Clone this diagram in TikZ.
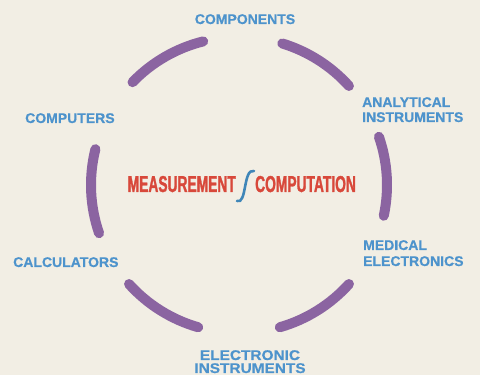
\documentclass[tikz,border=0pt]{standalone}
\usepackage{fontspec}
\setmainfont{Liberation Sans}
\newfontfamily\lblfont[FakeBold=0.5]{Liberation Sans Bold}
\newfontfamily\condfont[FakeStretch=0.6,FakeBold=1.2]{Liberation Sans Bold}
\newfontfamily\widefont[FakeStretch=1.1,FakeBold=0.5]{Liberation Sans Bold}
\definecolor{bgcream}{HTML}{F2EEE4}
\definecolor{ringpurple}{HTML}{8B64A1}
\definecolor{labelblue}{HTML}{4D93CC}
\definecolor{titlered}{HTML}{D8483A}
\definecolor{curveblue}{HTML}{3F86B8}
\tikzset{
  ringarc/.style={draw=ringpurple, line width=10pt, line cap=round},
  lbl/.style={inner sep=0pt, text=labelblue, font=\lblfont\fontsize{14}{16}\selectfont},
  lblwide/.style={inner sep=0pt, text=labelblue, font=\widefont\fontsize{14}{16}\selectfont},
  ttl/.style={inner sep=0pt, text=titlered, font=\condfont\fontsize{23}{26}\selectfont},
}
\begin{document}
\begin{tikzpicture}[x=1pt,y=1pt]
\useasboundingbox (0,0) rectangle (480,375);
\fill[bgcream] (0,0) rectangle (480,375);
\coordinate (c) at (239,190);
% ring segments
\draw[ringarc] (c) ++(104:148) arc[start angle=104,end angle=136,radius=148];
\draw[ringarc] (c) ++(42:148) arc[start angle=42,end angle=73,radius=148];
\draw[ringarc] (c) ++(-12:148) arc[start angle=-12,end angle=19,radius=148];
\draw[ringarc] (c) ++(-74:148) arc[start angle=-74,end angle=-42,radius=148];
\draw[ringarc] (c) ++(-138:148) arc[start angle=-138,end angle=-106,radius=148];
\draw[ringarc] (c) ++(166:148) arc[start angle=166,end angle=199,radius=148];
% labels
\node[lbl, anchor=base] (components) at (245,351) {COMPONENTS};
\node[lbl, anchor=base west] (computers) at (25,252) {COMPUTERS};
\node[lbl, anchor=base west] (calculators) at (13,108) {CALCULATORS};
\node[lbl, anchor=base west] (analytical) at (362,268) {ANALYTICAL};
\node[lbl, anchor=base west] (analyticalb) at (362,253) {INSTRUMENTS};
\node[lbl, anchor=base west] (medical) at (363,125) {MEDICAL};
\node[lbl, anchor=base west] (medicalb) at (363,109) {ELECTRONICS};
\node[lblwide, anchor=base] (electronic) at (250,15) {ELECTRONIC};
\node[lblwide, anchor=base] (electronicb) at (250,2) {INSTRUMENTS};
% centre title
\node[ttl, anchor=base east] (meas) at (236,183) {MEASUREMENT};
\node[ttl, anchor=base west] (comp) at (255,183) {COMPUTATION};
\draw[curveblue, line width=2.6pt, line cap=round]
  (237,174) .. controls (247,170) and (243,207) .. (254,204);
\end{tikzpicture}
\end{document}
